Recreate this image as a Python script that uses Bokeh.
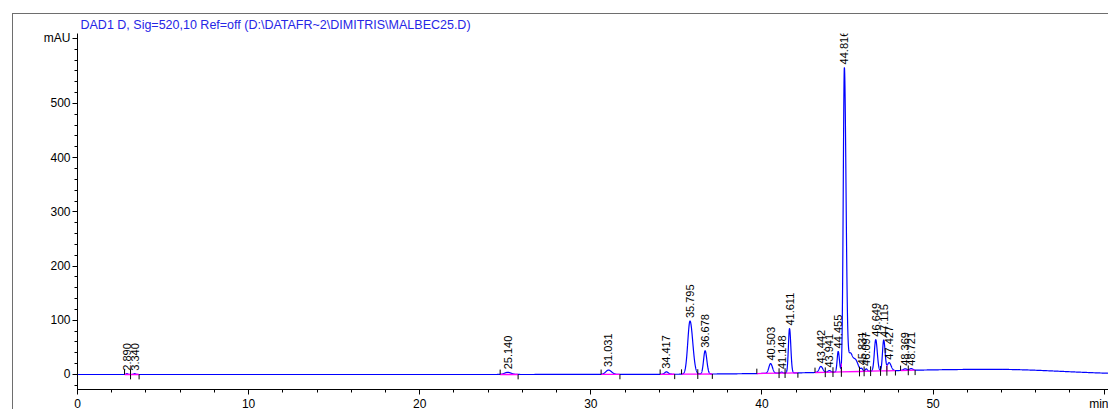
import numpy as np
from bokeh.plotting import figure
from bokeh.models import FixedTicker, Range1d, ColumnDataSource
from bokeh.core.properties import value
from bokeh.embed import file_html
from bokeh.resources import INLINE

TITLE = "DAD1 D, Sig=520,10 Ref=off  (D:\\DATAFR~2\\DIMITRIS\\MALBEC25.D)"

# Integrated peaks: retention time (min), height above baseline (mAU),
# left / right peak widths (min) and integration window (min)
retention_times = [2.890, 3.340, 25.140, 31.031, 34.417, 35.795, 36.678, 40.503,
                   41.148, 41.611, 43.442, 43.941, 44.455, 44.816, 45.831, 46.097,
                   46.649, 47.115, 47.427, 48.369, 48.721]
peak_heights = [1.5, 1.5, 4.0, 8.0, 4.5, 98.0, 43.0, 18.0,
                2.0, 82.0, 11.0, 3.0, 38.0, 561.0, 4.5, 4.5,
                58.0, 57.0, 15.0, 3.0, 3.0]
width_left = [0.05, 0.05, 0.18, 0.16, 0.10, 0.13, 0.09, 0.10,
              0.06, 0.065, 0.10, 0.08, 0.06, 0.065, 0.06, 0.06,
              0.08, 0.07, 0.10, 0.10, 0.10]
width_right = [0.05, 0.06, 0.20, 0.18, 0.11, 0.16, 0.10, 0.11,
               0.06, 0.075, 0.11, 0.08, 0.07, 0.095, 0.06, 0.06,
               0.09, 0.08, 0.12, 0.10, 0.10]
peak_starts = [2.75, 3.10, 24.70, 30.60, 34.05, 35.30, 36.25, 39.70,
               41.00, 41.35, 43.10, 43.70, 44.15, 44.64, 45.70, 45.97,
               46.35, 46.93, 47.30, 48.10, 48.55]
peak_ends = [3.10, 3.60, 25.75, 31.70, 34.90, 36.25, 37.10, 41.00,
             41.35, 42.10, 43.70, 44.15, 44.64, 45.70, 45.97, 46.35,
             46.93, 47.30, 47.80, 48.55, 48.95]

# Unlabelled tailing shoulders after the main peak
shoulder_times = [45.15, 45.45]
shoulder_heights = [30.0, 22.0]
shoulder_widths = [0.12, 0.16]

# Slow baseline drift of the gradient
drift_center = 53.5
drift_height = 9.5
drift_width_left = 7.5
drift_width_right = 4.0

RUN_END = 60.31
Y_MIN, Y_MAX = -27.7, 629
X_TICKS = [0, 10, 20, 30, 40, 50, 60]
Y_TICKS = [0, 100, 200, 300, 400, 500, 620]


def drift(t):
    t = np.asarray(t, dtype=float)
    w = np.where(t < drift_center, drift_width_left, drift_width_right)
    return drift_height * np.exp(-0.5 * ((t - drift_center) / w) ** 2)


def signal(t):
    t = np.asarray(t, dtype=float)
    y = drift(t)
    for rt, h, wl, wr in zip(retention_times, peak_heights, width_left, width_right):
        w = np.where(t < rt, wl, wr)
        y = y + h * np.exp(-0.5 * ((t - rt) / w) ** 2)
    for st, sh, sw in zip(shoulder_times, shoulder_heights, shoulder_widths):
        y = y + sh * np.exp(-0.5 * ((t - st) / sw) ** 2)
    return y


t = np.arange(0.0, RUN_END, 0.005)
trace = ColumnDataSource(dict(t=t, y=signal(t)))

p = figure(width=1096, height=399,
           x_range=Range1d(0, RUN_END), y_range=Range1d(Y_MIN, Y_MAX),
           output_backend="svg", toolbar_location=None,
           min_border_left=64, min_border_right=0,
           min_border_top=19, min_border_bottom=21)
p.styles = {"border-left": "1px solid #6e6e6e", "border-top": "1px solid #6e6e6e",
            "margin-left": "12px", "margin-top": "13px"}
p.grid.visible = False
p.outline_line_color = None

# signal description line above the plot area
p.title.text = TITLE
p.title.text_color = "#2626e6"
p.title.text_font = "Liberation Sans"
p.title.text_font_size = "12.5px"
p.title.text_font_style = "normal"
p.title.align = "left"
p.title.vertical_align = "top"
p.title.offset = 3
p.title.standoff = 0

for ax in (p.xaxis[0], p.yaxis[0]):
    ax.axis_line_color = "black"
    ax.major_tick_line_color = "black"
    ax.minor_tick_line_color = "black"
    ax.major_tick_in = 0
    ax.minor_tick_in = 0
    ax.major_tick_out = 5
    ax.minor_tick_out = 3
    ax.major_label_text_font = "Liberation Sans"
    ax.major_label_text_font_size = "12px"
    ax.major_label_text_color = "black"
    ax.major_label_standoff = 2

p.xaxis.ticker = FixedTicker(ticks=X_TICKS, minor_ticks=list(range(0, 61, 2)))
p.xaxis.major_label_overrides = {60: "min"}
p.yaxis.ticker = FixedTicker(ticks=Y_TICKS, minor_ticks=list(range(-20, 621, 20)))
p.yaxis.major_label_overrides = {620: "mAU"}

# chromatogram trace
p.line("t", "y", source=trace, line_color="#0000ff", line_width=1.2)

# integration baselines and drop lines
starts = np.array(peak_starts)
ends = np.array(peak_ends)
p.segment(x0=starts, y0=drift(starts), x1=ends, y1=drift(ends),
          line_color="#ff00ff", line_width=1.3)
shared = [e for e, s in zip(peak_ends[:-1], peak_starts[1:]) if abs(e - s) < 1e-9]
shared = np.array(shared)
p.segment(x0=shared, y0=drift(shared), x1=shared, y1=signal(shared),
          line_color="#ff00ff", line_width=1)

# integration event ticks: start ticks up, end ticks down
tick_len = 9
p.segment(x0=starts, y0=drift(starts), x1=starts, y1=drift(starts) + tick_len,
          line_color="black", line_width=1)
p.segment(x0=ends, y0=drift(ends), x1=ends, y1=drift(ends) - tick_len,
          line_color="black", line_width=1)

# retention time labels above each apex
rts = np.array(retention_times)
labels = ColumnDataSource(dict(x=rts, y=signal(rts),
                               txt=["%.3f" % r for r in retention_times]))
p.text("x", "y", text="txt", source=labels, angle=np.pi / 2,
       text_align="left", text_baseline="middle", y_offset=-3,
       text_font=value("Liberation Sans"), text_font_size="11px",
       text_color="black")

open("out.html", "w").write(file_html(p, INLINE))
